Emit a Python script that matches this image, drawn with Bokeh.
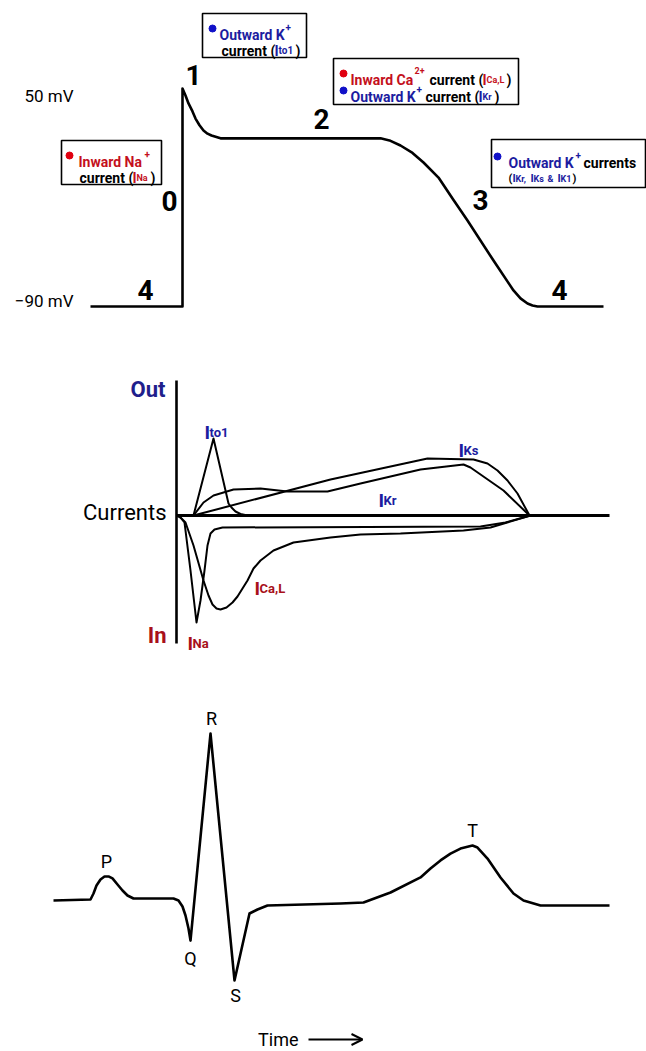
from bokeh.plotting import figure
from bokeh.layouts import column
from bokeh.models import Range1d, Arrow, OpenHead
from bokeh.core.properties import value
from bokeh.embed import file_html
from bokeh.resources import INLINE

# ---------------- data ----------------
# Action potential (time in ms, membrane potential in mV)
ap_time = [-92, 0, 0, 3, 6, 10, 13, 17, 21, 25, 29, 38, 198, 208, 218, 230, 241, 256, 270, 285, 311, 331, 338, 345, 350, 355, 421]
ap_mv = [-90, -90, 50, 45.5, 40.4, 35.3, 30.7, 26.4, 23.0, 21.0, 19.8, 18.0, 18.0, 16.4, 13.4, 8.6, 2.5, -7.2, -20.6,
         -34.8, -60.5, -79.7, -84.8, -88.1, -89.4, -90, -90]
ap_levels = ["50 mV", "\u221290 mV"]
phase_labels = ["0", "1", "2", "3", "4", "4"]

# Ionic currents (time in ms, arbitrary units; outward > 0)
ina_t = [-6, -2, 2, 8, 14, 18, 22, 25, 28, 32, 40, 298, 323, 348]
ina_i = [0, -0.02, -0.07, -0.55, -1.07, -0.85, -0.55, -0.30, -0.18, -0.14, -0.12, -0.11, -0.07, 0]
ical_t = [-4, 3, 11, 21, 26, 30, 34, 38, 44, 50, 55, 60, 65, 71, 78, 91, 111, 148, 178, 218, 281, 308, 348]
ical_i = [0, -0.07, -0.30, -0.65, -0.80, -0.89, -0.93, -0.94, -0.92, -0.87, -0.81, -0.73, -0.65, -0.53, -0.45,
          -0.35, -0.27, -0.22, -0.19, -0.18, -0.15, -0.12, 0]
ito_t = [11, 31, 46, 49, 53, 58, 65]
ito_i = [0, 0.77, 0.12, 0.08, 0.04, 0.015, 0]
ikr_t = [11, 21, 31, 51, 78, 105, 145, 178, 238, 281, 288, 321, 347]
ikr_i = [0, 0.13, 0.20, 0.26, 0.27, 0.24, 0.24, 0.32, 0.46, 0.51, 0.48, 0.25, 0]
iks_t = [11, 148, 245, 291, 305, 315, 325, 335, 347]
iks_i = [0, 0.36, 0.57, 0.56, 0.52, 0.45, 0.35, 0.22, 0]

# ECG (time in ms, mV)
ecg_t = [-129, -92, -89, -86, -82, -78, -74, -70, -65, -60, -55, -49, -9, -4, 0, 3, 6, 8, 28, 52, 67, 75, 85, 158,
         181, 208, 238, 248, 258, 268, 278, 290, 295, 305, 318, 331, 341, 358, 427]
ecg_mv = [0, 0.006, 0.042, 0.090, 0.126, 0.144, 0.144, 0.132, 0.096, 0.060, 0.030, 0.012, 0.012, 0, -0.036, -0.090,
          -0.168, -0.240, 1.0, -0.479, -0.078, -0.054, -0.030, -0.018, -0.012, 0.048, 0.138, 0.192, 0.240, 0.281,
          0.311, 0.329, 0.317, 0.251, 0.138, 0.042, 0.0, -0.030, -0.030]
ecg_waves = ["P", "Q", "R", "S", "T"]

# ---------------- layout helpers ----------------
W = 646
FONT = "Roboto"
BLUE = "#1c1ca0"
RED = "#c4101c"
DBLUE = "#1f1f8c"
DRED = "#a8101a"
BOX_FS = 14


def X(px):
    return px - 182


def Y1(py):
    return 50 - (py - 88) * 140.0 / 218.0


def Y2(py):
    return (515 - py) / 100.0


def Y3(py):
    return (900 - py) / 167.0


def make_fig(ymap, top, bottom):
    p = figure(width=W, height=bottom - top, x_range=Range1d(X(0), X(W)),
               y_range=Range1d(ymap(bottom), ymap(top)),
               output_backend="svg", toolbar_location=None, min_border=0,
               x_axis_location=None, y_axis_location=None)
    p.grid.visible = False
    p.outline_line_color = None
    p.background_fill_color = "white"
    p.border_fill_color = "white"
    return p


def txt(p, x, y, s, size, color="black", font=FONT, style="bold", align="left", baseline="alphabetic"):
    p.text(x=[x], y=[y], text=[s], text_font=value(font), text_font_size=value(f"{size}px"),
           text_font_style=style, text_color=color, text_align=align, text_baseline=baseline)


def box(p, ymap, l, r, t, b):
    p.quad(left=[X(l)], right=[X(r)], top=[ymap(t)], bottom=[ymap(b)], fill_color="white",
           line_color="black", line_width=1.6)


def bullet(p, ymap, px, py, color):
    p.scatter(x=[X(px)], y=[ymap(py)], size=7, color=color)


def runs(p, ymap, items):
    # items: (px, baseline_py, text, size, color)
    for px, py, s, size, color in items:
        txt(p, X(px), ymap(py), s, size, color)


# ---------------- panel 1: action potential ----------------
p1 = make_fig(Y1, 0, 340)
p1.line(ap_time, ap_mv, line_color="black", line_width=2.6, line_join="round")

for lab, py in zip(ap_levels, [95, 300]):
    txt(p1, X(73), Y1(py), lab, 17, "black", style="normal", align="right", baseline="middle")

phase_pos = [(169, 200), (193, 74), (321, 118), (480, 199), (145, 289), (559, 289)]
for lab, (px, py) in zip(phase_labels, phase_pos):
    txt(p1, X(px), Y1(py), lab, 28, "black", align="center", baseline="middle")

# box: Ito1
box(p1, Y1, 202, 306, 13, 57)
bullet(p1, Y1, 212, 28, "#1010c8")
runs(p1, Y1, [(219, 34, "Outward K", BOX_FS, BLUE), (285, 26, "+", 10, BLUE),
              (221, 50, "current (", BOX_FS, "black"), (274, 50, "I", BOX_FS, BLUE), (278, 50, "to1", 10, BLUE),
              (295, 50, ")", BOX_FS, "black")])

# box: ICa,L / IKr
box(p1, Y1, 333, 518, 58, 104)
bullet(p1, Y1, 343, 73, "#e00010")
bullet(p1, Y1, 343, 90, "#1010c8")
runs(p1, Y1, [(350, 79, "Inward Ca", BOX_FS, RED), (414, 70, "2+", 9, RED),
              (429, 79, "current (", BOX_FS, "black"), (482, 79, "I", BOX_FS, RED), (486, 79, "Ca,L", 9, RED),
              (506, 79, ")", BOX_FS, "black"),
              (350, 96, "Outward K", BOX_FS, BLUE), (416, 88, "+", 10, BLUE),
              (425, 96, "current (", BOX_FS, "black"), (478, 96, "I", BOX_FS, BLUE), (482, 96, "Kr", 9, BLUE),
              (494, 96, ")", BOX_FS, "black")])

# box: INa
box(p1, Y1, 61, 161, 140, 184)
bullet(p1, Y1, 69, 155, "#e00010")
runs(p1, Y1, [(78, 161, "Inward Na", BOX_FS, RED), (144, 153, "+", 10, RED),
              (79, 177, "current (", BOX_FS, "black"), (132, 177, "I", BOX_FS, RED), (136, 177, "Na", 9, RED),
              (150, 177, ")", BOX_FS, "black")])

# box: outward K currents
box(p1, Y1, 491, 645, 139, 187)
bullet(p1, Y1, 497, 156, "#1010c8")
runs(p1, Y1, [(508, 162, "Outward K", BOX_FS, BLUE), (575, 154, "+", 10, BLUE),
              (583, 162, "currents", BOX_FS, "black"),
              (508, 178, "(", 11, "black"), (512, 178, "I", 11, BLUE), (515, 178, "Kr,", 9, BLUE),
              (530, 178, "I", 11, BLUE), (533, 178, "Ks", 9, BLUE), (547, 178, "&", 9, BLUE),
              (557, 178, "I", 11, BLUE), (560, 178, "K1", 9, BLUE), (572, 178, ")", 11, "black")])

# ---------------- panel 2: currents ----------------
p2 = make_fig(Y2, 340, 690)
p2.line([X(176), X(176)], [Y2(380), Y2(643)], line_color="black", line_width=2.6)
p2.line([X(176), X(609)], [0, 0], line_color="black", line_width=3.2)
for t, i in [(ina_t, ina_i), (ical_t, ical_i), (ito_t, ito_i), (ikr_t, ikr_i), (iks_t, iks_i)]:
    p2.line(t, i, line_color="black", line_width=2, line_join="round")

txt(p2, X(165), Y2(389), "Out", 22, DBLUE, align="right", baseline="middle")
txt(p2, X(166), Y2(512), "Currents", 22, "black", style="normal", align="right", baseline="middle")
txt(p2, X(166), Y2(635), "In", 22, DRED, align="right", baseline="middle")
runs(p2, Y2, [(204, 432, "I", 19, BLUE), (209, 432, "to1", 13, BLUE),
              (458, 450, "I", 19, BLUE), (463, 450, "Ks", 13, BLUE),
              (378, 500, "I", 19, BLUE), (383, 500, "Kr", 13, BLUE),
              (254, 588, "I", 19, DRED), (259, 588, "Ca,L", 13, DRED),
              (187, 643, "I", 19, DRED), (192, 643, "Na", 13, DRED)])

# ---------------- panel 3: ECG ----------------
p3 = make_fig(Y3, 690, 1050)
p3.line(ecg_t, ecg_mv, line_color="black", line_width=2.6, line_join="round")
wave_pos = [(106, 861), (190, 958), (211, 718), (235, 995), (472, 830)]
for lab, (px, py) in zip(ecg_waves, wave_pos):
    txt(p3, X(px), Y3(py), lab, 18, "black", style="normal", align="center", baseline="middle")

txt(p3, X(298), Y3(1039), "Time", 18, "black", style="normal", align="right", baseline="middle")
p3.add_layout(Arrow(x_start=X(308), y_start=Y3(1039), x_end=X(362), y_end=Y3(1039), line_width=2,
                    end=OpenHead(size=11, line_width=2)))

layout = column(p1, p2, p3, spacing=0)
open("out.html", "w").write(file_html(layout, INLINE))
